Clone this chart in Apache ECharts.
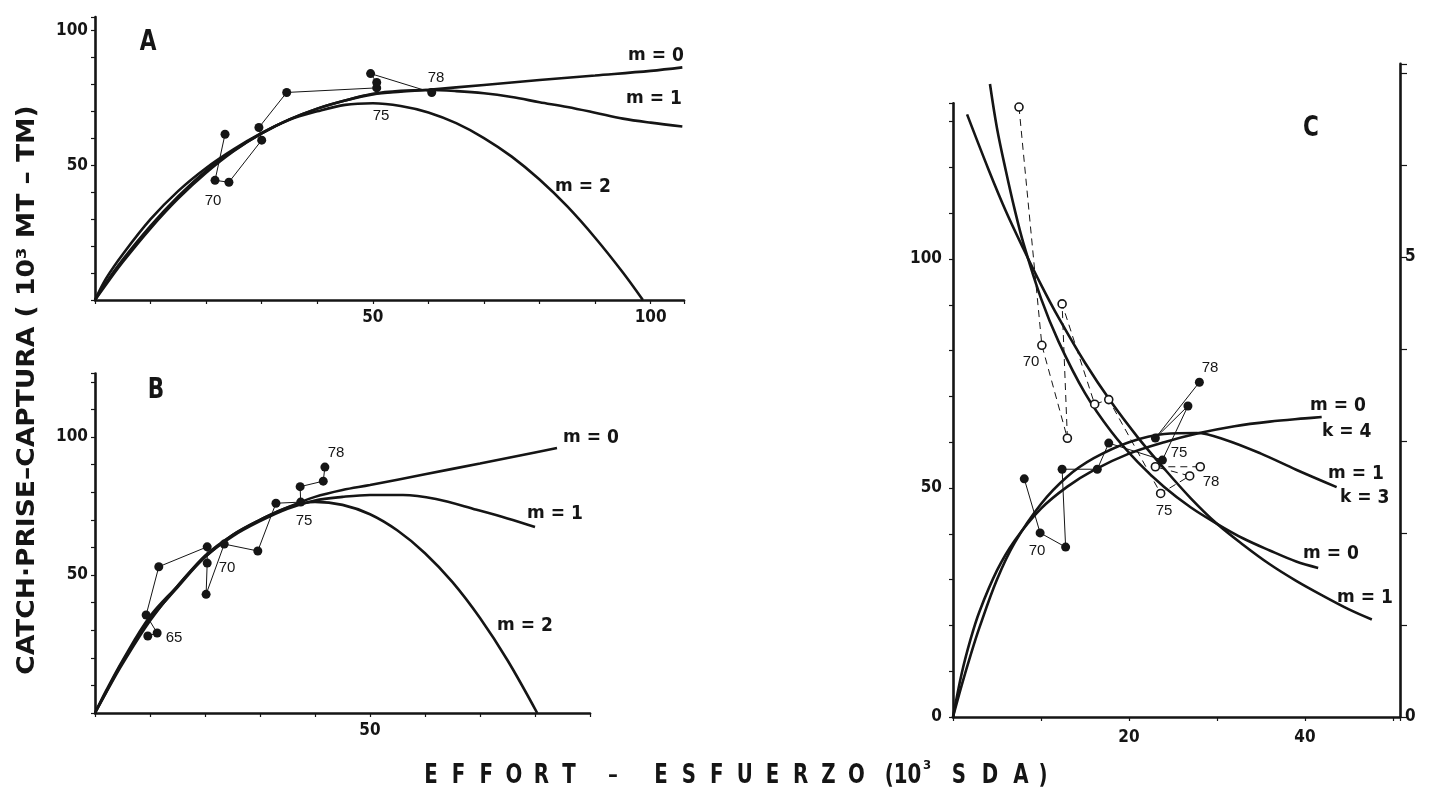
<!DOCTYPE html>
<html><head><meta charset="utf-8">
<script src="https://cdn.jsdelivr.net/npm/echarts@6/dist/echarts.min.js"></script>
<style>html,body{margin:0;padding:0;background:#fff}#c{width:1431px;height:800px}</style>
</head><body><div id="c"></div>
<script>
// ---------- Panel A : catch vs effort ----------
const aCurveM0 = [[0,0],[2,8],[5,17],[10,30],[15,40.5],[20,49],[25,56],[30,62],[35,67],[40,71],[45,74],[50,76.3],[55,77.3],[60,78],[70,79.8],[80,81.6],[90,83.3],[100,85],[105.7,86.3]];
const aCurveM1 = [[0,0],[2,6.5],[5,15],[10,27.5],[15,38.5],[20,48],[25,55.5],[30,61.8],[35,67],[40,71],[45,74],[50,76.5],[55,77.6],[60,77.9],[65,77.5],[70,76.7],[75,75.3],[80,73.4],[85,71.6],[90,69.5],[95,67.3],[100,65.8],[105.7,64.4]];
const aCurveM2 = [[0,0],[2,5.8],[5,14.1],[10,26.6],[15,37.7],[20,47.2],[25,55.3],[30,61.8],[35,66.9],[40,70],[45,72.4],[50,73],[55,72],[60,69.6],[65,65.6],[70,60.1],[75,53.2],[80,44.7],[85,34.7],[90,23.1],[95,10.2],[98.6,0]];
const aObs = [[23.4,61.5],[21.6,44.4],[24.1,43.7],[30,59.3],[29.5,64],[34.5,77],[50.7,78.7],[50.7,80.7],[49.6,84],[60.6,77]];
const aXTickLabels = [50, 100];
const aYTickLabels = [50, 100];

// ---------- Panel B ----------
const bCurveM0 = [[0,0],[2,8],[5,19],[10,35],[15,46],[20,57],[25,64.5],[30,70],[35,74.5],[40,78.3],[45,80.8],[50,82.6],[60,86.5],[70,90.4],[80,94.4],[84,96]];
const bCurveM1 = [[0,0],[2,7.5],[5,18.5],[10,34],[15,45.5],[20,56.5],[25,64],[30,69.5],[35,74],[40,77],[45,78.3],[50,79],[56,79],[62,77.5],[69.4,73.6],[75,70.5],[80,67.4]];
const bCurveM2 = [[0,0],[2,7.3],[5,17.8],[10,33.4],[15,46],[20,56.5],[25,64.5],[30,70],[35,74.5],[40,76.5],[45,75.4],[50,72],[55,66.1],[60,57.9],[65,47.4],[70,34.4],[75,19.1],[80.4,0]];
const bObs = [[9.6,27.9],[11.3,29],[9.3,35.5],[11.6,53],[20.4,60.2],[20.4,54.3],[20.2,43],[23.5,61.2],[29.6,58.7],[32.9,76],[37.4,76.4],[37.3,82],[41.5,84],[41.8,89.1]];
const bXTickLabels = [50];
const bYTickLabels = [50, 100];

// ---------- Panel C : catch (left axis) and catch per effort (right axis) ----------
const cCatchM0 = [[0,0],[1,9.6],[2,17],[3,23],[5,32],[7,38.5],[10,45.5],[13,50.3],[16,53.9],[20,57.5],[24,60],[28,62],[32,63.5],[36,64.5],[40,65.2],[41.9,65.5]];
const cCatchM1 = [[0,0],[1,7],[2,13.5],[3,19.5],[5,30],[7,38],[10,46.5],[13,52.5],[16,56.5],[20,60],[24,61.8],[27.7,62],[31,60.5],[35,57.5],[39,54],[43.6,50.2]];
const cCpueM0 = [[4.2,6.88],[5,6.4],[6,5.94],[7,5.52],[8,5.15],[10,4.55],[12,4.08],[15,3.52],[18,3.10],[21,2.77],[24,2.50],[27,2.28],[30,2.10],[33,1.94],[36,1.81],[39,1.69],[41.5,1.62]];
const cCpueM1 = [[1.6,6.55],[4,5.96],[6,5.50],[8,5.09],[10,4.70],[12,4.34],[15,3.85],[18,3.42],[21,3.04],[24,2.70],[27,2.38],[30,2.10],[33,1.87],[36,1.66],[39,1.48],[42,1.32],[45,1.17],[47.6,1.06]];
const cCatchObs = [[8.1,52],[9.9,40.2],[12.8,37.1],[12.4,54.1],[16.4,54.1],[17.7,59.8],[23.8,56.1],[26.7,67.9],[23,60.9],[28,73.1]];
const cCpueObs = [[7.5,6.63],[10.1,4.04],[13,3.03],[12.4,4.49],[16.1,3.40],[17.7,3.45],[23.6,2.43],[26.9,2.62],[23,2.72],[28.1,2.72]];
const cXTickLabels = [20, 40];
const cYTickLabels = [0, 50, 100];
const cRightTickLabels = [0, 5];

const INK = '#151515';
const NARROW = '"DejaVu Sans Condensed","Liberation Sans Narrow",sans-serif';

function axis(gridIndex, max, interval, labels, extra, labelMargin) {
  return Object.assign({
    type: 'value', gridIndex: gridIndex, min: 0, max: max, interval: interval,
    axisLine: { show: true, onZero: false, lineStyle: { color: INK, width: 2.6 } },
    axisTick: { show: true, inside: false, length: 4, lineStyle: { color: INK, width: 1.2 } },
    axisLabel: { show: true, color: INK, fontFamily: NARROW, fontWeight: 'bold', fontSize: 17, margin: labelMargin || 7,
      formatter: function (v) { return labels.indexOf(v) >= 0 ? String(v) : ''; } },
    splitLine: { show: false }
  }, extra || {});
}
function curve(data, xi, yi) {
  return { type: 'line', data: data, xAxisIndex: xi, yAxisIndex: yi, smooth: 0.35, symbol: 'none', showSymbol: false,
    lineStyle: { color: INK, width: 2.6 }, z: 3, silent: true };
}
function obs(data, xi, yi, open) {
  return { type: 'line', data: data, xAxisIndex: xi, yAxisIndex: yi, symbol: 'circle', showSymbol: true,
    symbolSize: open ? 8 : 9,
    itemStyle: { color: open ? '#fff' : INK, borderColor: INK, borderWidth: open ? 1.6 : 0 },
    lineStyle: { color: INK, width: 1, type: open ? [7, 5] : 'solid' }, z: 4, silent: true };
}
function txt(x, y, s, font, align, extra) {
  return Object.assign({ type: 'text', x: x, y: y, silent: true,
    style: { text: s, font: font, fill: INK, align: align || 'center', verticalAlign: 'middle',
      textAlign: align || 'center', textVerticalAlign: 'middle' } }, extra || {});
}
function mlab(x, y, letter, num) {
  return { type: 'text', x: x, y: y, silent: true,
    style: { text: '{a|' + letter + '}{b| = ' + num + '}', fill: INK, align: 'left', verticalAlign: 'middle',
      textAlign: 'left', textVerticalAlign: 'middle',
      rich: { a: { fontFamily: '"DejaVu Sans"', fontWeight: 'bold', fontSize: 17, fill: INK },
              b: { fontFamily: NARROW, fontWeight: 'bold', fontSize: 19, fill: INK } } } };
}
// letter-spaced axis title: each glyph placed at its own centre
function spaced(str, x0, step, y) {
  const out = [];
  for (let i = 0; i < str.length; i++) {
    out.push(txt(x0 + i * step, y, str[i], 'bold 22px ' + NARROW, 'center', { scaleY: 1.22 }));
  }
  return out;
}
const YR = '15px "Liberation Sans",Arial,sans-serif';
const LET = 'bold 24px ' + NARROW;
const TY = 776;

const graphics = [
  txt(27, 390, 'CATCH·PRISE–CAPTURA ( 10³ MT – TM)', 'bold 25px ' + NARROW, 'center', { rotation: Math.PI / 2, scaleX: 1.18 }),
  txt(613, TY, '–', 'bold 22px ' + NARROW),
  txt(903, TY, '(10', 'bold 22px ' + NARROW, 'center', { scaleY: 1.22 }),
  txt(927, TY - 10, '3', 'bold 13px ' + NARROW),
  txt(1043, TY, ')', 'bold 22px ' + NARROW, 'center', { scaleY: 1.22 }),
  txt(148, 43, 'A', LET, 'center', { scaleY: 1.2 }),
  txt(156, 391, 'B', LET, 'center', { scaleY: 1.2 }),
  txt(1311, 129, 'C', LET, 'center', { scaleY: 1.2 }),
  mlab(628, 56, 'm', 0), mlab(626, 99, 'm', 1), mlab(555, 187, 'm', 2),
  mlab(563, 438, 'm', 0), mlab(527, 514, 'm', 1), mlab(497, 626, 'm', 2),
  mlab(1310, 406, 'm', 0), mlab(1322, 432, 'k', 4), mlab(1328, 474, 'm', 1), mlab(1340, 498, 'k', 3),
  mlab(1303, 554, 'm', 0), mlab(1337, 598, 'm', 1),
  txt(213, 201, '70', YR), txt(381, 116, '75', YR), txt(436, 78, '78', YR),
  txt(174, 638, '65', YR), txt(227, 568, '70', YR), txt(304, 521, '75', YR), txt(336, 453, '78', YR),
  txt(1037, 551, '70', YR), txt(1179, 453, '75', YR), txt(1210, 368, '78', YR),
  txt(1031, 362, '70', YR), txt(1164, 511, '75', YR), txt(1211, 482, '78', YR)
].concat(spaced('EFFORT', 431, 27.6, TY), spaced('ESFUERZO', 661, 27.9, TY), spaced('SDA', 959, 31, TY));

const chart = echarts.init(document.getElementById('c'), null, { renderer: 'canvas' });
chart.setOption({
  animation: false,
  backgroundColor: '#fff',
  grid: [
    { left: 95, top: 17, width: 589, height: 283, outerBoundsMode: 'none' },
    { left: 95, top: 373.5, width: 495, height: 339.5, outerBoundsMode: 'none' },
    { left: 953, top: 103.3, width: 447, height: 613.7, outerBoundsMode: 'none' },
    { left: 953, top: 63.8, width: 447, height: 653.2, outerBoundsMode: 'none' }
  ],
  xAxis: [
    axis(0, 106, 10, aXTickLabels, null, 9),
    axis(1, 90, 10, bXTickLabels, null, 9),
    axis(2, 50.8, 10, cXTickLabels, null, 12),
    axis(3, 50.8, 10, [], { show: false })
  ],
  yAxis: [
    axis(0, 105, 10, aYTickLabels),
    axis(1, 123, 10, bYTickLabels),
    axis(2, 134, 10, cYTickLabels, null, 11),
    axis(3, 7.1, 1, cRightTickLabels, { position: 'right', axisTick: { show: true, inside: false, length: 7, lineStyle: { color: INK, width: 1.2 } } }, 5)
  ],
  series: [
    curve(aCurveM0, 0, 0), curve(aCurveM1, 0, 0), curve(aCurveM2, 0, 0), obs(aObs, 0, 0, false),
    curve(bCurveM0, 1, 1), curve(bCurveM1, 1, 1), curve(bCurveM2, 1, 1), obs(bObs, 1, 1, false),
    curve(cCatchM0, 2, 2), curve(cCatchM1, 2, 2), obs(cCatchObs, 2, 2, false),
    curve(cCpueM0, 3, 3), curve(cCpueM1, 3, 3), obs(cCpueObs, 3, 3, true)
  ],
  graphic: graphics
});
</script></body></html>
